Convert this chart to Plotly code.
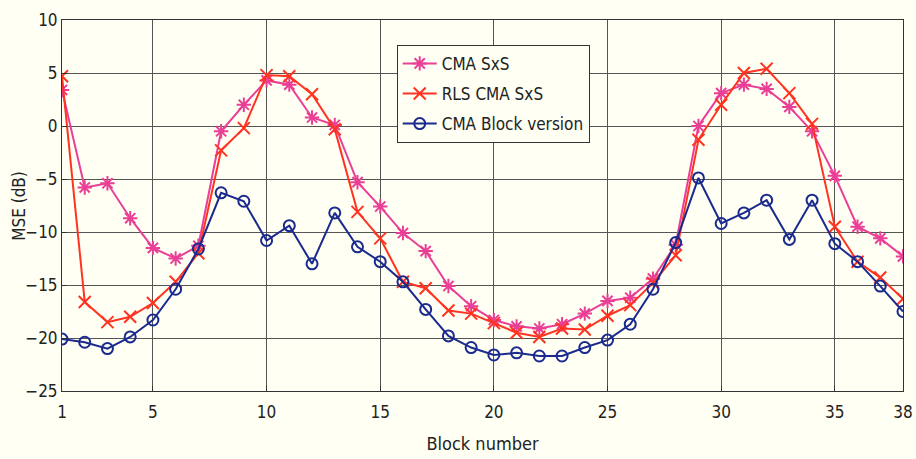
import plotly.graph_objects as go

# Номера блоков
blocks = list(range(1, 39))

# MSE (dB) по трём алгоритмам
cma_sxs = [3.4, -5.8, -5.4, -8.7, -11.5, -12.5, -11.3, -0.5, 2.0, 4.3,
           3.9, 0.8, 0.1, -5.3, -7.6, -10.1, -11.8, -15.1, -17.0, -18.3,
           -18.9, -19.1, -18.7, -17.7, -16.5, -16.2, -14.4, -11.2, 0.0, 3.1,
           3.9, 3.5, 1.8, -0.5, -4.7, -9.5, -10.6, -12.3]
rls_cma_sxs = [4.7, -16.6, -18.5, -18.0, -16.7, -14.7, -12.0, -2.3, -0.2, 4.8,
               4.7, 3.0, -0.3, -8.1, -10.6, -14.7, -15.3, -17.4, -17.7, -18.6,
               -19.5, -19.9, -19.1, -19.2, -17.9, -16.9, -14.8, -12.2, -1.3, 2.0,
               5.0, 5.4, 3.1, 0.2, -9.5, -12.8, -14.3, -16.3]
cma_block = [-20.1, -20.4, -21.0, -19.9, -18.3, -15.4, -11.6, -6.3, -7.1, -10.8,
             -9.4, -13.0, -8.2, -11.4, -12.8, -14.7, -17.3, -19.8, -20.9, -21.6,
             -21.4, -21.7, -21.7, -20.9, -20.2, -18.7, -15.4, -11.0, -4.9, -9.2,
             -8.2, -7.0, -10.7, -7.0, -11.1, -12.8, -15.1, -17.5]

x_ticks = [1, 5, 10, 15, 20, 25, 30, 35, 38]

bg = "#fffff3"
font_name = "DejaVu Sans Condensed, Liberation Sans Narrow, Liberation Sans, Arial"

fig = go.Figure()
fig.add_trace(go.Scatter(x=blocks, y=cma_sxs, name="CMA SxS", mode="lines+markers",
                         legendgroup="a",
                         line=dict(color="#ea3f96", width=2),
                         marker=dict(symbol="asterisk-open", size=12,
                                     line=dict(color="#ea3f96", width=2))))
fig.add_trace(go.Scatter(x=blocks, y=rls_cma_sxs, name="RLS CMA SxS", mode="lines+markers",
                         legendgroup="b",
                         line=dict(color="#ff3322", width=2),
                         marker=dict(symbol="x-thin-open", size=12,
                                     line=dict(color="#ff3322", width=2))))
fig.add_trace(go.Scatter(x=blocks, y=cma_block, name="CMA Block version", mode="lines+markers",
                         legendgroup="c",
                         line=dict(color="#1a2a8e", width=2),
                         marker=dict(symbol="circle-open", size=11,
                                     line=dict(color="#1a2a8e", width=2))))

axis_style = dict(showline=True, linecolor="#333333", linewidth=1, mirror=True,
                  showgrid=True, gridcolor="#555555", gridwidth=1,
                  ticks="inside", ticklen=5, tickcolor="#333333",
                  zeroline=False, automargin=False,
                  tickfont=dict(size=17, color="#222222"))

fig.update_layout(
    width=916, height=459,
    paper_bgcolor=bg, plot_bgcolor=bg,
    font=dict(family=font_name, color="#222222", size=17),
    margin=dict(l=62, r=13, t=20, b=68),
    legend=dict(x=0.398, y=0.933, xanchor="left", yanchor="top",
                bgcolor=bg, bordercolor="#333333", borderwidth=1,
                font=dict(size=17), tracegroupgap=5, itemwidth=34),
    showlegend=True,
)
fig.update_xaxes(range=[1, 38], tickvals=x_ticks, ticklabelstandoff=6,
                 title=dict(text="Block number", standoff=15, font=dict(size=18)),
                 **axis_style)
fig.update_yaxes(range=[-25, 10], dtick=5, **axis_style)

# подпись оси Y — аннотацией, чтобы поставить её поближе к делениям
fig.add_annotation(text="MSE (dB)", textangle=-90, showarrow=False,
                   xref="paper", yref="paper", x=-0.052, y=0.5,
                   xanchor="center", yanchor="middle", font=dict(size=17))

# убираем стандартный отступ страницы, чтобы график встал ровно в окно
fig.write_html("out.html", config={"displayModeBar": False},
               post_script="document.body.style.margin='0px';")
